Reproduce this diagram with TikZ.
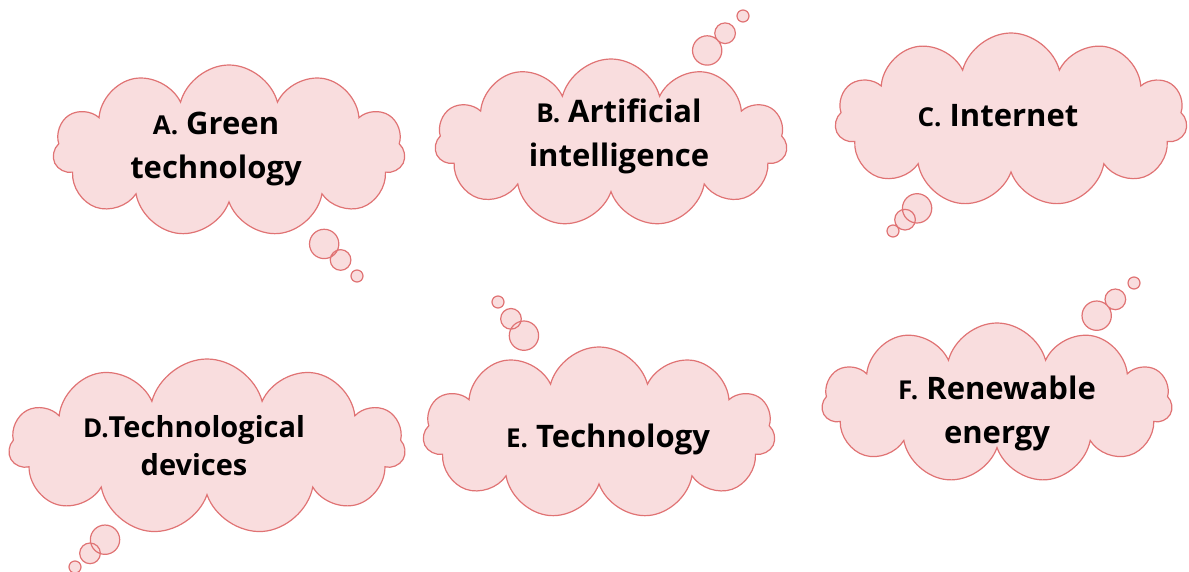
\documentclass[tikz,border=0pt]{standalone}
\usepackage{fontspec}
\setmainfont{Open Sans}
\usetikzlibrary{shapes.symbols,shapes.callouts}
\definecolor{cloudfill}{HTML}{F9DDDE}
\definecolor{cloudline}{HTML}{E07374}
\newcommand\lettertag[1]{{\fontsize{13}{22}\selectfont #1}}

\begin{document}
\begin{tikzpicture}[x=0.5pt,y=-0.5pt,
  thought/.style={cloud callout, draw=cloudline, fill=cloudfill, line width=0.6pt, cloud puffs=11, aspect=2.05, inner sep=0pt, callout pointer segments=3, callout pointer start size=19pt, callout pointer end size=6pt},
  idea/.style={font=\fontsize{15.5}{22}\selectfont\bfseries, align=center, text=black},
]
\useasboundingbox (0,0) rectangle (1189,572);
\node[thought, minimum width=176pt, minimum height=86pt, callout absolute pointer={(357,276)}] (cA) at (229,151) {};
\node[thought, minimum width=176pt, minimum height=84pt, callout absolute pointer={(743,16)}] (cB) at (611,143) {};
\node[thought, minimum width=176pt, minimum height=87pt, callout absolute pointer={(893,231)}] (cC) at (1011,120) {};
\node[thought, minimum width=198pt, minimum height=88pt, callout absolute pointer={(75,567)}] (cD) at (207,447) {};
\node[thought, minimum width=176pt, minimum height=86pt, callout absolute pointer={(498,302)}] (cE) at (599,433) {};
\node[thought, minimum width=175pt, minimum height=80pt, callout absolute pointer={(1134,283)}] (cF) at (997,403) {};
\node[idea] (tA) at (216,149) {\lettertag{A.} Green\\technology};
\node[idea] (tB) at (619,136) {\lettertag{B.} Artificial\\intelligence};
\node[idea, anchor=base] (tC) at (998,127) {\lettertag{C.} Internet};
\node[idea, font=\fontsize{14.5}{19}\selectfont\bfseries] (tD) at (194,446) {\lettertag{D.}Technological\\devices};
\node[idea, anchor=base] (tE) at (608,447) {\lettertag{E.} Technology};
\node[idea] (tF) at (997,413) {\lettertag{F.} Renewable\\energy};
\end{tikzpicture}
\end{document}
